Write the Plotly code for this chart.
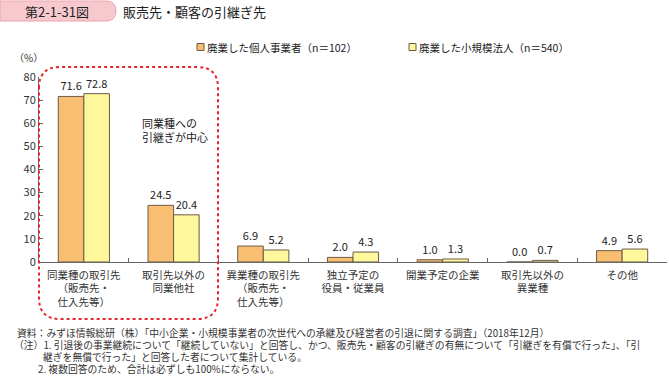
import plotly.graph_objects as go

categories = [
    "同業種の取引先<br>（販売先・<br>仕入先等）",
    "取引先以外の<br>同業他社",
    "異業種の取引先<br>（販売先・<br>仕入先等）",
    "独立予定の<br>役員・従業員",
    "開業予定の企業",
    "取引先以外の<br>異業種",
    "その他",
]
individual = [71.6, 24.5, 6.9, 2.0, 1.0, 0.0, 4.9]
corporate = [72.8, 20.4, 5.2, 4.3, 1.3, 0.7, 5.6]
series_names = ["廃業した個人事業者（n＝102）", "廃業した小規模法人（n＝540）"]
y_ticks = [0, 10, 20, 30, 40, 50, 60, 70, 80]
notes = [
    "資料：みずほ情報総研（株）「中小企業・小規模事業者の次世代への承継及び経営者の引退に関する調査」（2018年12月）",
    "（注）1. 引退後の事業継続について「継続していない」と回答し、かつ、販売先・顧客の引継ぎの有無について「引継ぎを有償で行った」、「引",
    "継ぎを無償で行った」と回答した者について集計している。",
    "2. 複数回答のため、合計は必ずしも100%にならない。",
]

W, H = 669, 376
ML, MR, MT, MB = 39, 2, 77, 114
PW, PH = W - ML - MR, H - MT - MB
FONT = "Noto Sans CJK JP"
COLORS = ["#F8BF72", "#FFF79C"]
EDGE = "#6b5a48"


def px(x):
    return (x - ML) / PW


def py(y):
    return (H - MB - y) / PH


fig = go.Figure()
for name, vals, col in zip(series_names, [individual, corporate], COLORS):
    fig.add_trace(go.Bar(
        x=categories, y=vals, name=name,
        marker=dict(color=col, line=dict(color=EDGE, width=1)),
        texttemplate="%{y:.1f}", textposition="outside",
        textfont=dict(size=11, color="#222"), cliponaxis=False,
    ))

# rounded dotted rectangle
x0, x1, y0, y1, r = 39, 218, 67, 319, 21
path = (
    f"M {px(x0)} {py(y0 + r)} "
    f"Q {px(x0)} {py(y0)} {px(x0 + r)} {py(y0)} "
    f"L {px(x1 - r)} {py(y0)} "
    f"Q {px(x1)} {py(y0)} {px(x1)} {py(y0 + r)} "
    f"L {px(x1)} {py(y1 - r)} "
    f"Q {px(x1)} {py(y1)} {px(x1 - r)} {py(y1)} "
    f"L {px(x0 + r)} {py(y1)} "
    f"Q {px(x0)} {py(y1)} {px(x0)} {py(y1 - r)} Z"
)
shapes = [
    dict(type="path", xref="paper", yref="paper", path=path,
         line=dict(color="#e8262a", width=2, dash="dot"), layer="above"),
    # title pill
    dict(type="path", xref="paper", yref="paper",
         path=(f"M {px(0)} {py(1)} L {px(106)} {py(1)} "
               f"Q {px(116)} {py(1)} {px(116)} {py(11)} "
               f"Q {px(116)} {py(21)} {px(106)} {py(21)} "
               f"L {px(0)} {py(21)} Z"),
         fillcolor="#F7C9CF", line=dict(color="#EDA3AD", width=1)),
]


def ann(text, x, y, size, xanchor="left", color="#222", align="left", yanchor="middle"):
    return dict(text=text, x=px(x), y=py(y), xref="paper", yref="paper",
                xanchor=xanchor, yanchor=yanchor, align=align, showarrow=False,
                borderpad=0, font=dict(size=size, color=color, family=FONT))


annotations = [
    ann("第2-1-31図", 57, 11, 13, xanchor="center"),
    ann("販売先・顧客の引継ぎ先", 122, 11, 13),
    ann("（%）", 28, 58, 10, xanchor="center", color="#333"),
    ann("同業種への<br>引継ぎが中心", 141, 130, 11),
]
for text, nx, ny in zip(notes, [16, 13, 42, 37], [333, 345, 357, 369]):
    annotations.append(ann(text, nx, ny, 9.8, color="#333"))

# legend (manual, small squares)
for lx, name, col in zip([197, 409], series_names, COLORS):
    shapes.append(dict(type="rect", xref="paper", yref="paper",
                       x0=px(lx), x1=px(lx + 7), y0=py(43.5), y1=py(50.5),
                       fillcolor=col, line=dict(color=EDGE, width=1)))
    annotations.append(ann(name, lx + 9, 47, 10.5))

fig.update_layout(
    width=W, height=H,
    margin=dict(l=ML, r=MR, t=MT, b=MB, autoexpand=False),
    paper_bgcolor="white", plot_bgcolor="white",
    font=dict(family=FONT, color="#333", size=11),
    barmode="group", bargap=0.43, bargroupgap=0,
    showlegend=False,
    shapes=shapes, annotations=annotations,
)
fig.update_xaxes(
    showline=True, linecolor="#666", linewidth=1, automargin=False,
    ticks="inside", ticklen=4, tickcolor="#666", tickson="boundaries",
    tickfont=dict(size=10.5, color="#333", family=FONT), ticklabelstandoff=3,
    showgrid=False,
)
fig.update_yaxes(
    range=[0, 80], tickvals=y_ticks, automargin=False,
    showline=True, linecolor="#666", linewidth=1,
    ticks="inside", ticklen=4, tickcolor="#666",
    tickfont=dict(size=11, color="#333", family=FONT),
    showgrid=False, zeroline=False,
)

fig.write_html("out.html", config={"displayModeBar": False},
               post_script="document.body.style.margin='0';document.body.style.padding='0';")
